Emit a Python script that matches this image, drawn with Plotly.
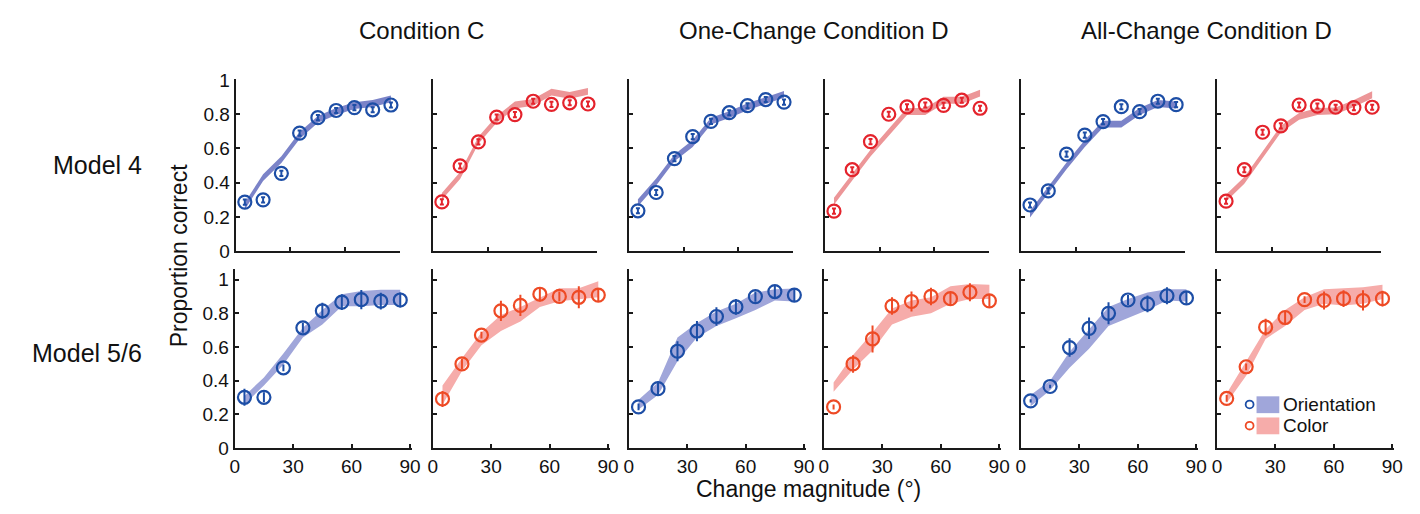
import plotly.graph_objects as go

W, H = 1420, 514

# ---------------- data ----------------
x_deg = [5, 15, 25, 35, 45, 55, 65, 75, 85]
conditions = ["Condition C", "One-Change Condition D", "All-Change Condition D"]
models = ["Model 4", "Model 5/6"]

# Model 4 row (top): observed proportion correct
m4_ori_C = [0.287, 0.30, 0.455, 0.69, 0.78, 0.822, 0.839, 0.826, 0.854]
m4_col_C = [0.288, 0.498, 0.639, 0.783, 0.798, 0.876, 0.858, 0.867, 0.86]
m4_ori_D1 = [0.236, 0.343, 0.541, 0.669, 0.758, 0.809, 0.85, 0.886, 0.871]
m4_col_D1 = [0.234, 0.476, 0.64, 0.80, 0.843, 0.854, 0.852, 0.882, 0.835]
m4_ori_DA = [0.27, 0.352, 0.567, 0.678, 0.757, 0.844, 0.815, 0.876, 0.856]
m4_col_DA = [0.292, 0.476, 0.695, 0.732, 0.854, 0.848, 0.841, 0.839, 0.841]
m4_err = [0.015] * 9

# Model 4 fits (centre of thin band)
m4_fit_ori_C = [0.264, 0.43, 0.535, 0.676, 0.77, 0.816, 0.85, 0.863, 0.89]
m4_fit_col_C = [0.32, 0.442, 0.648, 0.77, 0.854, 0.869, 0.929, 0.91, 0.934]
m4_fit_ori_D1 = [0.283, 0.404, 0.545, 0.629, 0.76, 0.798, 0.844, 0.882, 0.916]
m4_fit_col_D1 = [0.292, 0.433, 0.573, 0.695, 0.816, 0.816, 0.882, 0.882, 0.923]
m4_fit_ori_DA = [0.217, 0.358, 0.498, 0.629, 0.742, 0.742, 0.816, 0.863, 0.854]
m4_fit_col_DA = [0.311, 0.414, 0.563, 0.713, 0.788, 0.816, 0.82, 0.863, 0.914]
m4_halfwidth = 0.02

# Model 5/6 row (bottom): observed proportion correct and error bars
m56_ori_C = [0.302, 0.302, 0.477, 0.714, 0.815, 0.866, 0.881, 0.872, 0.879]
m56_ori_C_err = [0.05, 0.03, 0.02, 0.03, 0.047, 0.047, 0.057, 0.05, 0.045]
m56_col_C = [0.292, 0.5, 0.671, 0.815, 0.847, 0.913, 0.9, 0.895, 0.908]
m56_col_C_err = [0.047, 0.03, 0.02, 0.06, 0.063, 0.043, 0.03, 0.065, 0.04]
m56_ori_D1 = [0.245, 0.353, 0.575, 0.695, 0.781, 0.838, 0.899, 0.929, 0.908]
m56_ori_D1_err = [0.02, 0.042, 0.06, 0.06, 0.055, 0.047, 0.03, 0.035, 0.04]
m56_col_D1 = [0.245, 0.5, 0.648, 0.843, 0.87, 0.9, 0.887, 0.925, 0.874]
m56_col_D1_err = [0.015, 0.052, 0.08, 0.052, 0.06, 0.052, 0.035, 0.053, 0.035]
m56_ori_DA = [0.281, 0.366, 0.597, 0.711, 0.8, 0.879, 0.856, 0.904, 0.891]
m56_ori_DA_err = [0.01, 0.01, 0.055, 0.064, 0.065, 0.03, 0.05, 0.05, 0.035]
m56_col_DA = [0.295, 0.483, 0.718, 0.775, 0.881, 0.876, 0.887, 0.876, 0.887]
m56_col_DA_err = [0.02, 0.02, 0.05, 0.035, 0.02, 0.053, 0.05, 0.06, 0.047]

# Model 5/6 fit bands (upper, lower)
m56_fit_ori_C_hi = [0.31, 0.42, 0.562, 0.714, 0.819, 0.913, 0.933, 0.94, 0.94]
m56_fit_ori_C_lo = [0.26, 0.372, 0.496, 0.657, 0.733, 0.842, 0.842, 0.85, 0.85]
m56_fit_col_C_hi = [0.372, 0.534, 0.686, 0.79, 0.838, 0.895, 0.948, 0.948, 0.99]
m56_fit_col_C_lo = [0.258, 0.458, 0.61, 0.695, 0.752, 0.838, 0.872, 0.885, 0.895]
m56_fit_ori_D1_hi = [0.287, 0.39, 0.657, 0.743, 0.81, 0.857, 0.923, 0.942, 0.947]
m56_fit_ori_D1_lo = [0.23, 0.315, 0.515, 0.657, 0.724, 0.771, 0.819, 0.876, 0.87]
m56_fit_col_D1_hi = [0.39, 0.553, 0.686, 0.828, 0.876, 0.895, 0.96, 0.974, 0.97]
m56_fit_col_D1_lo = [0.335, 0.467, 0.58, 0.733, 0.78, 0.80, 0.857, 0.885, 0.885]
m56_fit_ori_DA_hi = [0.315, 0.40, 0.572, 0.705, 0.838, 0.885, 0.923, 0.942, 0.942]
m56_fit_ori_DA_lo = [0.249, 0.344, 0.477, 0.59, 0.724, 0.771, 0.819, 0.876, 0.87]
m56_fit_col_DA_hi = [0.325, 0.515, 0.705, 0.819, 0.895, 0.942, 0.948, 0.955, 0.97]
m56_fit_col_DA_lo = [0.268, 0.429, 0.648, 0.724, 0.819, 0.857, 0.847, 0.857, 0.885]

y_tickvals = [0, 0.2, 0.4, 0.6, 0.8, 1]
y_ticktext = ["0", "0.2", "0.4", "0.6", "0.8", "1"]
x_tickvals = [0, 30, 60, 90]
x_ticktext = ["0", "30", "60", "90"]
legend_labels = ["Orientation", "Color"]

# ---------------- styles ----------------
FONT = "Liberation Sans, Arial, Helvetica, sans-serif"
BLUE_MK = "#1d4ea6"
RED_MK_TOP = "#e4232c"
RED_MK_BOT = "#ee4a25"
BLUE_BAND_TOP = "rgba(112,120,195,0.92)"
BLUE_BAND_BOT = "rgba(160,166,218,1)"
RED_BAND_TOP = "rgba(236,150,152,1)"
RED_BAND_BOT = "rgba(246,172,170,1)"
AXC = "#1a1a1a"

top_left = [233, 432, 630, 828, 1026, 1224]
bot_left = [232, 432, 630, 827, 1026, 1224]
TOP_W, BOT_W = 166, 179
TOP_Y = (73, 252)
BOT_Y = (271, 457)

def fx(px):
    return px / W

def fy(py):
    return 1 - py / H

fig = go.Figure()

top_panels = [
    (m4_ori_C, m4_fit_ori_C, "ori"), (m4_col_C, m4_fit_col_C, "col"),
    (m4_ori_D1, m4_fit_ori_D1, "ori"), (m4_col_D1, m4_fit_col_D1, "col"),
    (m4_ori_DA, m4_fit_ori_DA, "ori"), (m4_col_DA, m4_fit_col_DA, "col"),
]
bot_panels = [
    (m56_ori_C, m56_ori_C_err, m56_fit_ori_C_hi, m56_fit_ori_C_lo, "ori"),
    (m56_col_C, m56_col_C_err, m56_fit_col_C_hi, m56_fit_col_C_lo, "col"),
    (m56_ori_D1, m56_ori_D1_err, m56_fit_ori_D1_hi, m56_fit_ori_D1_lo, "ori"),
    (m56_col_D1, m56_col_D1_err, m56_fit_col_D1_hi, m56_fit_col_D1_lo, "col"),
    (m56_ori_DA, m56_ori_DA_err, m56_fit_ori_DA_hi, m56_fit_ori_DA_lo, "ori"),
    (m56_col_DA, m56_col_DA_err, m56_fit_col_DA_hi, m56_fit_col_DA_lo, "col"),
]

layout_axes = {}

def axis_common():
    return dict(showline=True, linecolor=AXC, linewidth=2, ticks="inside",
                ticklen=4, tickwidth=1.5, tickcolor=AXC, showgrid=False,
                zeroline=False, fixedrange=True,
                tickfont=dict(family=FONT, size=19, color="#111"))

idx = 0
for row in range(2):
    for col in range(6):
        idx += 1
        xa = "x" if idx == 1 else f"x{idx}"
        ya = "y" if idx == 1 else f"y{idx}"
        xkey = "xaxis" if idx == 1 else f"xaxis{idx}"
        ykey = "yaxis" if idx == 1 else f"yaxis{idx}"
        if row == 0:
            obs, fit, kind = top_panels[col]
            hi = [v + m4_halfwidth for v in fit]
            lo = [v - m4_halfwidth for v in fit]
            err = m4_err
            band_c = BLUE_BAND_TOP if kind == "ori" else RED_BAND_TOP
            mk_c = BLUE_MK if kind == "ori" else RED_MK_TOP
            left, wpx, ydom = top_left[col], TOP_W, TOP_Y
            xrange_, yrange_ = [0, 90], [0, 1.005]
            err_w = 2
        else:
            obs, err, hi, lo, kind = bot_panels[col]
            band_c = BLUE_BAND_BOT if kind == "ori" else RED_BAND_BOT
            mk_c = BLUE_MK if kind == "ori" else RED_MK_BOT
            left, wpx, ydom = bot_left[col], BOT_W, BOT_Y
            xrange_, yrange_ = [0, 91], [0, 1.06]
            err_w = 0
        fig.add_trace(go.Scatter(
            x=x_deg + x_deg[::-1], y=hi + lo[::-1], fill="toself",
            fillcolor=band_c, line=dict(width=0), mode="lines",
            hoverinfo="skip", showlegend=False, xaxis=xa, yaxis=ya))
        fig.add_trace(go.Scatter(
            x=x_deg, y=obs, mode="markers",
            marker=dict(symbol="circle-open", size=13, color=mk_c,
                        line=dict(width=2.2, color=mk_c)),
            error_y=dict(type="data", array=err, visible=True, color=mk_c,
                         thickness=2, width=err_w),
            showlegend=False, xaxis=xa, yaxis=ya))
        xa_d = axis_common()
        xa_d.update(domain=[fx(left), fx(left + wpx)], range=xrange_,
                    anchor=ya, tickvals=x_tickvals, ticktext=x_ticktext,
                    showticklabels=(row == 1))
        ya_d = axis_common()
        ya_d.update(domain=[fy(ydom[1]), fy(ydom[0])], range=yrange_,
                    anchor=xa, tickvals=y_tickvals, ticktext=y_ticktext,
                    showticklabels=(col == 0))
        layout_axes[xkey] = xa_d
        layout_axes[ykey] = ya_d

fig.update_layout(**layout_axes)

annotations = []
title_x = [421, 817, 1213]
for t, xp in zip(conditions, title_x):
    annotations.append(dict(text=t, x=fx(xp), y=fy(22), xref="paper", yref="paper",
                            showarrow=False, xanchor="center", yanchor="middle",
                            font=dict(family=FONT, size=24, color="#111")))
row_y = [162, 358]
for t, yp in zip(models, row_y):
    annotations.append(dict(text=t, x=fx(140), y=fy(yp), xref="paper", yref="paper",
                            showarrow=False, xanchor="right", yanchor="middle",
                            font=dict(family=FONT, size=25, color="#111")))
annotations.append(dict(text="Proportion correct", x=fx(176), y=fy(257), xref="paper",
                        yref="paper", showarrow=False, textangle=-90,
                        xanchor="center", yanchor="middle",
                        font=dict(family=FONT, size=23, color="#111")))
annotations.append(dict(text="Change magnitude (°)", x=fx(811), y=fy(499), xref="paper",
                        yref="paper", showarrow=False, xanchor="center", yanchor="middle",
                        font=dict(family=FONT, size=23, color="#111")))

# legend (drawn manually)
shapes = []
leg_rows = [(411.5, BLUE_MK, BLUE_BAND_BOT), (433.5, RED_MK_BOT, RED_BAND_BOT)]
for (yc, mk, bc), lab in zip(leg_rows, legend_labels):
    shapes.append(dict(type="circle", xref="paper", yref="paper",
                       x0=fx(1253), x1=fx(1261), y0=fy(yc + 4), y1=fy(yc - 4),
                       line=dict(color=mk, width=1.8)))
    shapes.append(dict(type="rect", xref="paper", yref="paper",
                       x0=fx(1264), x1=fx(1287), y0=fy(yc + 9), y1=fy(yc - 8.5),
                       line=dict(width=0), fillcolor=bc))
    annotations.append(dict(text=lab, x=fx(1289), y=fy(yc), xref="paper", yref="paper",
                            showarrow=False, xanchor="left", yanchor="middle",
                            font=dict(family=FONT, size=19, color="#111")))

fig.update_layout(
    width=W, height=H, margin=dict(l=0, r=0, t=0, b=0),
    paper_bgcolor="white", plot_bgcolor="white",
    annotations=annotations, shapes=shapes, showlegend=False,
)

fig.write_html("out.html")
